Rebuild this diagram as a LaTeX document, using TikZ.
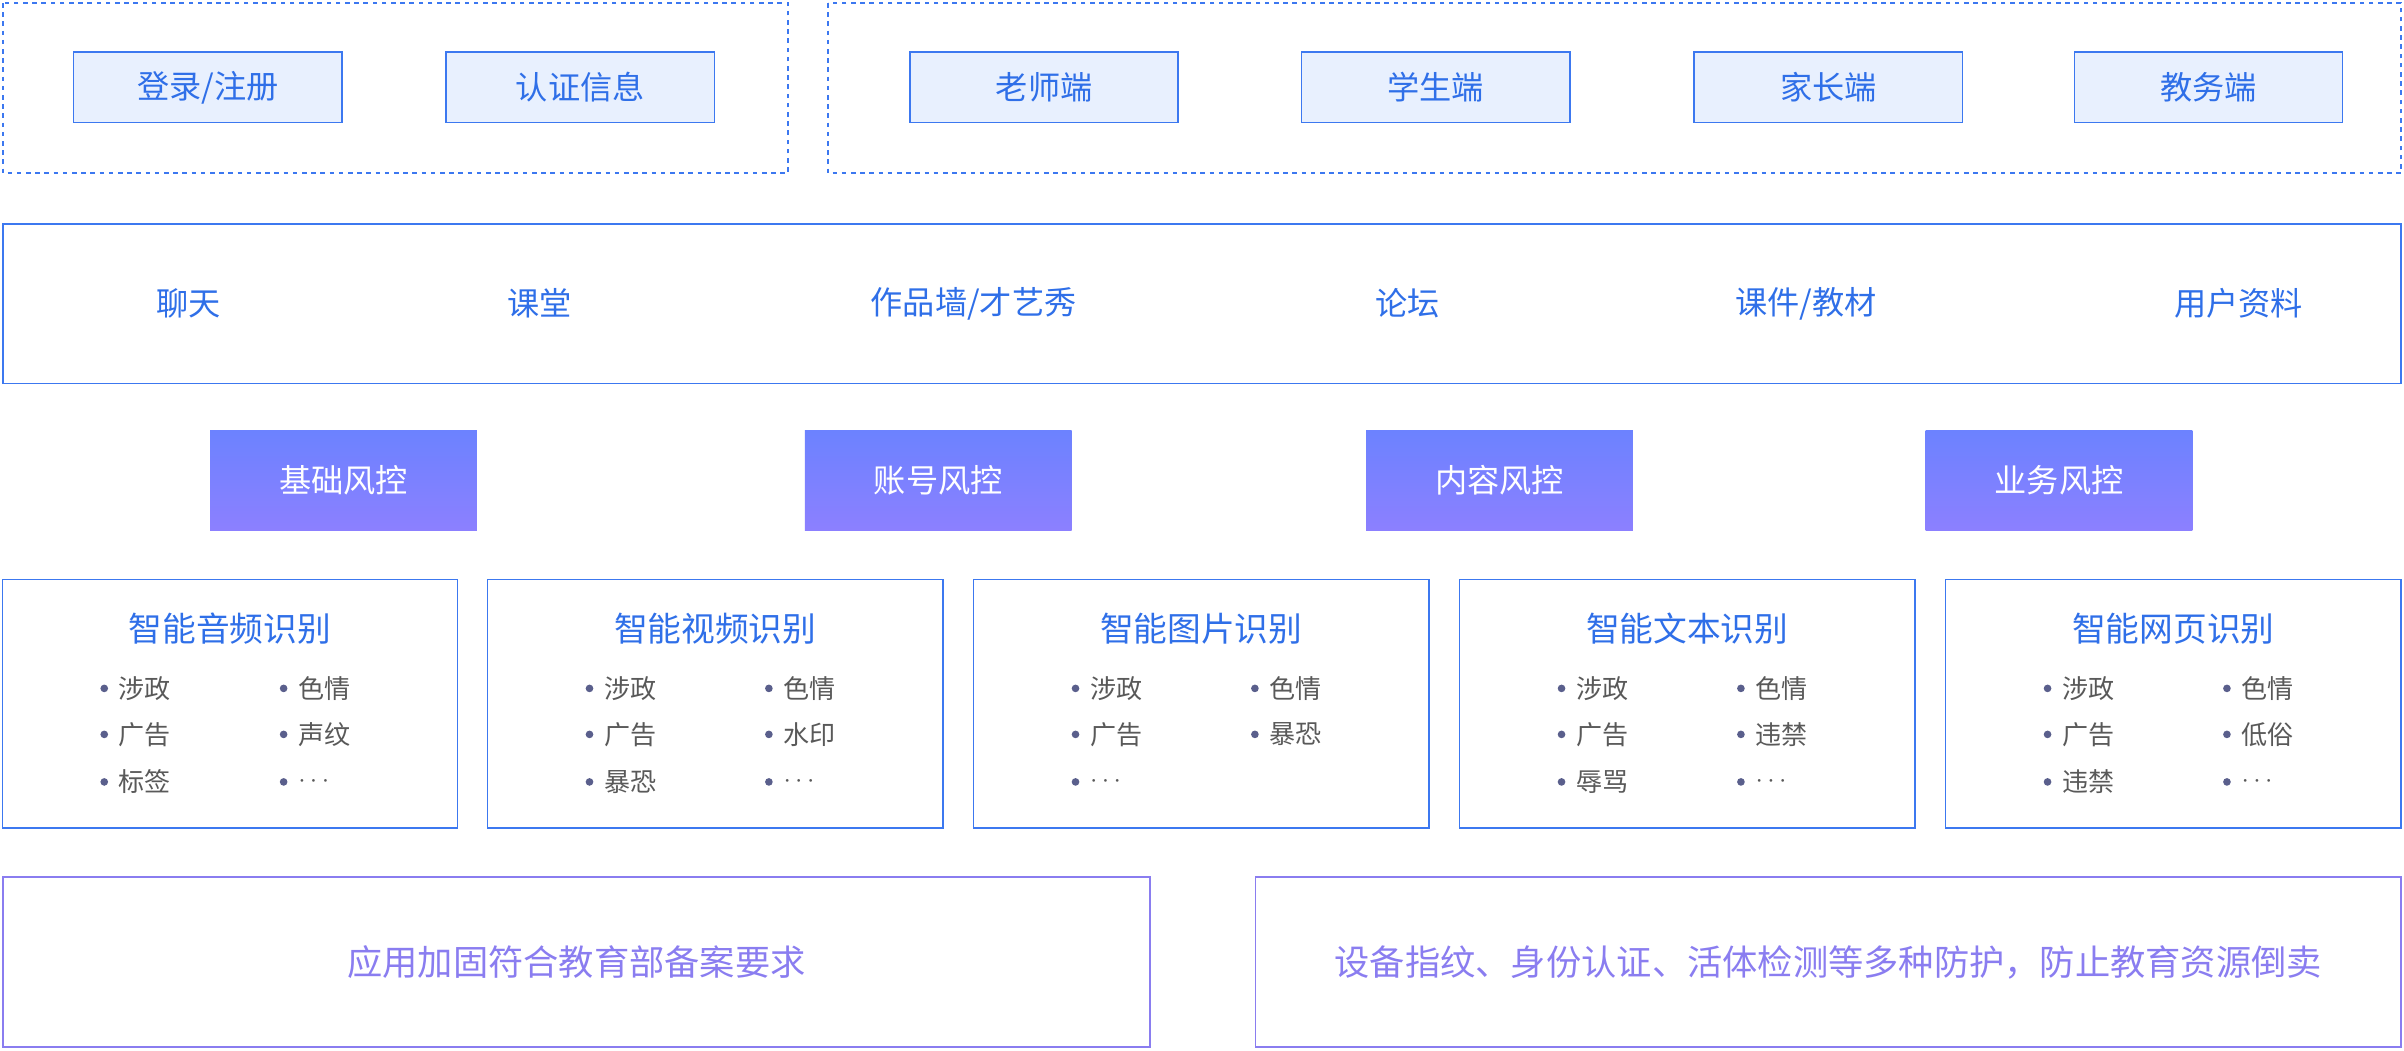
\documentclass[tikz,border=0pt]{standalone}
\usepackage{fontspec}
\setmainfont{Noto Sans CJK SC}
\usetikzlibrary{positioning}
\definecolor{lineblue}{HTML}{3C78F0}
\definecolor{textblue}{HTML}{2F6FE8}
\definecolor{paleblue}{HTML}{E8F0FE}
\definecolor{riskA}{HTML}{6C82FF}
\definecolor{riskB}{HTML}{8C80FF}
\definecolor{purp}{HTML}{8A7DF0}
\definecolor{dotgray}{HTML}{5A5F8C}
\newcommand{\moredots}{\ensuremath{\cdots}}
\tikzset{
  groupbox/.style={draw=lineblue, dash pattern=on 3pt off 3pt, line width=1pt},
  endbox/.style={draw=lineblue, fill=paleblue, line width=1pt, minimum width=175pt, minimum height=46pt, text=textblue, font=\fontsize{21}{25}\selectfont},
  barlabel/.style={text=textblue, font=\fontsize{21}{25}\selectfont},
  riskbox/.style={top color=riskA, bottom color=riskB, draw=none, minimum width=174pt, minimum height=65pt, text=white, font=\fontsize{21}{25}\selectfont},
  recbox/.style={draw=lineblue, line width=1pt, minimum width=297pt, minimum height=162pt},
  rectitle/.style={text=textblue, font=\fontsize{22}{26}\selectfont},
  item/.style={text=black!65, font=\fontsize{17}{20}\selectfont, anchor=west},
  bottombox/.style={draw=purp, line width=1pt, text=purp, font=\fontsize{23}{27}\selectfont}
}
\begin{document}
\begin{tikzpicture}[x=1pt, y=-1pt]
  \useasboundingbox (0,0) rectangle (1568,685);
  % client groups
  \draw[groupbox] (2,2) rectangle (514,113);
  \draw[groupbox] (540,2) rectangle (1566,113);
  \node[endbox] (login) at (135.5,57) {登录/注册};
  \node[endbox] (auth) at (378.5,57) {认证信息};
  \node[endbox] (teacher) at (681,57) {老师端};
  \node[endbox] (student) at (936.5,57) {学生端};
  \node[endbox] (parent) at (1192.5,57) {家长端};
  \node[endbox] (admin) at (1440.5,57) {教务端};
  % scenarios
  \draw[draw=lineblue, line width=1pt] (2,146) rectangle (1566,250);
  \node[barlabel] (chat) at (123,198) {聊天};
  \node[barlabel] (class) at (352,198) {课堂};
  \node[barlabel] (works) at (635,198) {作品墙/才艺秀};
  \node[barlabel] (forum) at (918,198) {论坛};
  \node[barlabel] (course) at (1178,198) {课件/教材};
  \node[barlabel] (profile) at (1460,198) {用户资料};
  % risk control
  \node[riskbox] (base) at (224,313.5) {基础风控};
  \node[riskbox] (account) at (612,313.5) {账号风控};
  \node[riskbox] (content) at (978,313.5) {内容风控};
  \node[riskbox] (business) at (1343,313.5) {业务风控};
  % recognition
  \foreach \n/\x/\t/\k/\a/\b/\c/\d/\e/\f in {
    audio/150/智能音频识别/6/涉政/色情/广告/声纹/标签/\moredots,
    video/466.5/智能视频识别/6/涉政/色情/广告/水印/暴恐/\moredots,
    image/783.5/智能图片识别/5/涉政/色情/广告/暴恐/\moredots/{},
    text/1100.5/智能文本识别/6/涉政/色情/广告/违禁/辱骂/\moredots,
    web/1417.5/智能网页识别/6/涉政/色情/广告/低俗/违禁/\moredots}{
    \node[recbox] (\n) at (\x,459) {};
    \node[rectitle] at (\x,410) {\t};
    \foreach \lab/\dx/\dy [count=\i] in {\a/-82/449,\b/35/449,\c/-82/479,\d/35/479,\e/-82/510,\f/35/510}{
      \ifnum\i>\k\else
        \fill[dotgray] (\x+\dx,\dy) circle (2.5pt);
        \node[item] at (\x+\dx+6,\dy) {\lab};
      \fi
    }
  }
  % hardening
  \node[bottombox, minimum width=748pt, minimum height=111pt] (harden) at (376,627.5) {应用加固符合教育部备案要求};
  \node[bottombox, minimum width=747pt, minimum height=111pt] (device) at (1192.5,627.5) {设备指纹、身份认证、活体检测等多种防护，防止教育资源倒卖};
\end{tikzpicture}
\end{document}
